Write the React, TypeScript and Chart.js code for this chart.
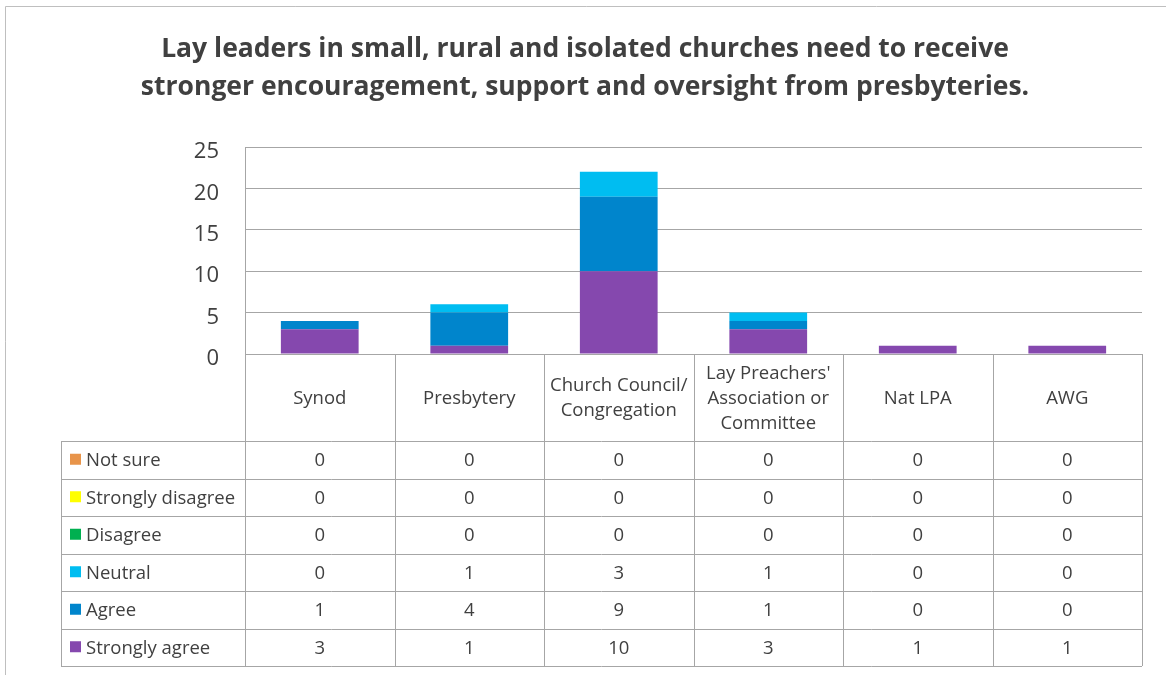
import React, { useEffect, useRef } from "react";
import { Chart, registerables } from "chart.js";

Chart.register(...registerables);

const titleLines = [
  "Lay leaders in small, rural and isolated churches need to receive",
  "stronger encouragement, support and oversight from presbyteries.",
];
const categories: (string | string[])[] = [
  "Synod",
  "Presbytery",
  ["Church Council/", "Congregation"],
  ["Lay Preachers'", "Association or", "Committee"],
  "Nat LPA",
  "AWG",
];
const yTicks = [0, 5, 10, 15, 20, 25];

const stronglyAgree = [3, 1, 10, 3, 1, 1];
const agree = [1, 4, 9, 1, 0, 0];
const neutral = [0, 1, 3, 1, 0, 0];
const disagree = [0, 0, 0, 0, 0, 0];
const stronglyDisagree = [0, 0, 0, 0, 0, 0];
const notSure = [0, 0, 0, 0, 0, 0];

const seriesNames = ["Strongly agree", "Agree", "Neutral", "Disagree", "Strongly disagree", "Not sure"];
const seriesValues = [stronglyAgree, agree, neutral, disagree, stronglyDisagree, notSure];
const seriesColors = ["#8548AE", "#0085CC", "#00BDF1", "#00B050", "#FFFF00", "#E8944A"];

const FONT = "'Open Sans', Lato, sans-serif";
const TEXT = "#404040";
const LINE = "#a6a6a6";

const tablePlugin = {
  id: "dataTable",
  beforeDraw(chart: any) {
    const ctx = chart.ctx;
    ctx.save();
    ctx.strokeStyle = "#bfbfbf";
    ctx.lineWidth = 1;
    ctx.beginPath();
    ctx.moveTo(5.5, 680);
    ctx.lineTo(5.5, 6.5);
    ctx.lineTo(1170, 6.5);
    ctx.stroke();
    ctx.restore();
  },
  afterDraw(chart: any) {
    const ctx = chart.ctx;
    const area = chart.chartArea;
    const left = area.left;
    const right = area.right;
    const headTop = area.bottom;
    const headBottom = 441;
    const rowH = 37.5;
    const nRows = seriesNames.length;
    const tableBottom = headBottom + rowH * nRows;
    const labelLeft = 61;
    const n = categories.length;
    const colW = (right - left) / n;
    const x = chart.scales.x;

    ctx.save();
    ctx.strokeStyle = LINE;
    ctx.lineWidth = 1;
    const px = (v: number) => Math.round(v) + 0.5;
    ctx.beginPath();
    for (let i = 0; i <= n; i++) {
      const xx = px(left + i * colW);
      ctx.moveTo(xx, headTop);
      ctx.lineTo(xx, tableBottom);
    }
    ctx.moveTo(px(labelLeft), headBottom);
    ctx.lineTo(px(labelLeft), tableBottom);
    for (let r = 0; r <= nRows; r++) {
      const yy = px(headBottom + r * rowH);
      ctx.moveTo(labelLeft, yy);
      ctx.lineTo(right, yy);
    }
    ctx.moveTo(left, px(headTop));
    ctx.lineTo(right, px(headTop));
    ctx.stroke();

    ctx.fillStyle = TEXT;
    ctx.font = `18.5px ${FONT}`;
    ctx.textAlign = "center";
    ctx.textBaseline = "middle";
    const headMid = (headTop + headBottom) / 2;
    categories.forEach((c, i) => {
      const lines = Array.isArray(c) ? c : [c];
      const cx = x.getPixelForValue(i);
      const lh = 25;
      lines.forEach((l, j) => {
        ctx.fillText(l, cx, headMid + (j - (lines.length - 1) / 2) * lh + 1);
      });
    });

    for (let r = 0; r < nRows; r++) {
      const s = nRows - 1 - r;
      const cy = headBottom + r * rowH + rowH / 2 + 1;
      ctx.fillStyle = seriesColors[s];
      ctx.fillRect(70, cy - 7, 11, 11);
      ctx.fillStyle = TEXT;
      ctx.textAlign = "left";
      ctx.fillText(seriesNames[s], 86, cy);
      ctx.textAlign = "center";
      seriesValues[s].forEach((v, i) => {
        ctx.fillText(String(v), x.getPixelForValue(i), cy);
      });
    }
    ctx.restore();
  },
};

export default function App() {
  const ref = useRef<HTMLCanvasElement | null>(null);
  useEffect(() => {
    if (!ref.current) return;
    const chart = new Chart(ref.current, {
      type: "bar",
      data: {
        labels: categories.map((c) => (Array.isArray(c) ? c.join(" ") : c)),
        datasets: seriesNames.map((name, i) => ({
          label: name,
          data: seriesValues[i],
          backgroundColor: seriesColors[i],
          borderWidth: 0,
          categoryPercentage: 1,
          barPercentage: 0.52,
        })),
      },
      options: {
        animation: false,
        responsive: false,
        maintainAspectRatio: false,
        layout: { padding: { left: 0, right: 24, top: 147, bottom: 321 } },
        plugins: {
          legend: { display: false },
          tooltip: { enabled: false },
          title: { display: false },
        },
        scales: {
          x: {
            stacked: true,
            display: false,
          },
          y: {
            stacked: true,
            min: 0,
            max: 25,
            afterBuildTicks: (scale: any) => {
              scale.ticks = yTicks.map((v) => ({ value: v }));
            },
            afterFit: (scale: any) => {
              scale.width = 245;
            },
            grid: { color: LINE, drawTicks: false, lineWidth: 1 },
            border: { display: true, color: LINE },
            ticks: {
              color: TEXT,
              font: { family: FONT, size: 22 },
              padding: 26,
              labelOffset: 5,
            },
          },
        },
      },
      plugins: [
        tablePlugin,
        {
          id: "titleText",
          afterDraw(c: any) {
            const ctx = c.ctx;
            ctx.save();
            ctx.fillStyle = TEXT;
            ctx.font = `bold 26.5px ${FONT}`;
            ctx.textAlign = "center";
            ctx.textBaseline = "middle";
            titleLines.forEach((l, i) => ctx.fillText(l, 585, 49 + i * 38));
            ctx.restore();
          },
        },
      ],
    });
    return () => chart.destroy();
  }, []);
  return (
    <div style={{ position: "fixed", left: 0, top: 0, width: 1166, height: 675, background: "#fff" }}>
      <canvas ref={ref} width={1166} height={675} style={{ width: 1166, height: 675 }} />
    </div>
  );
}
